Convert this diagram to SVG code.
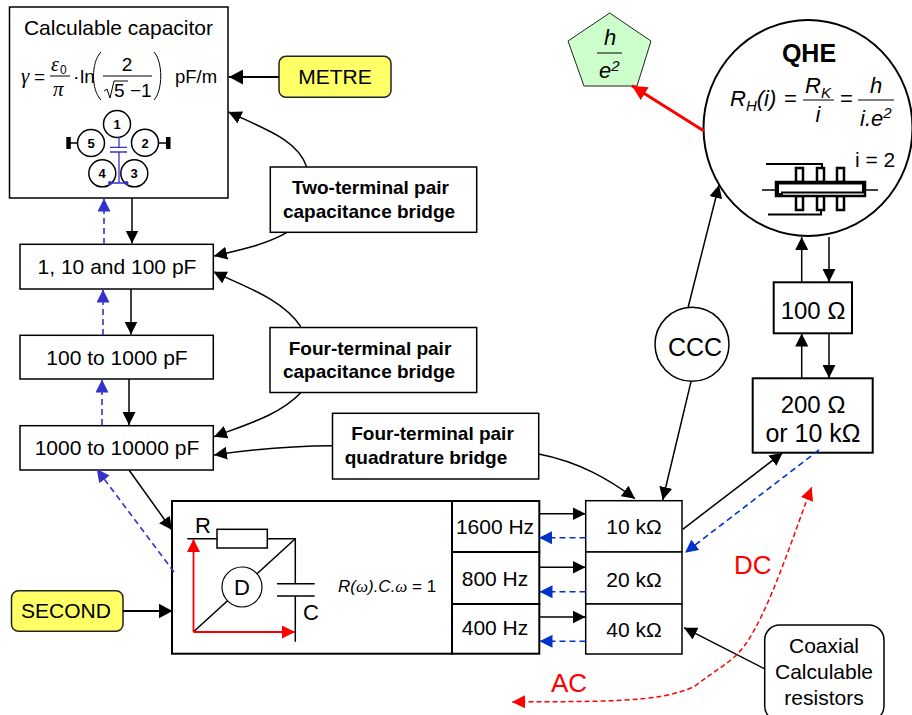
<svg xmlns="http://www.w3.org/2000/svg" width="912" height="715" viewBox="0 0 912 715">
<style>
text{font-family:"Liberation Sans",Arial,sans-serif;fill:#000;font-size:21px}
.m{text-anchor:middle}
.b{font-weight:bold;font-size:19px}
.i{font-style:italic}
.f{font-size:19px}
.g{font-family:"Liberation Serif","Times New Roman",serif;font-style:italic}
.box{fill:#fff;stroke:#000;stroke-width:1.5}
.y{fill:#ffff66;stroke:#222;stroke-width:1.5}
.l{fill:none;stroke:#000;stroke-width:1.5}
.w{fill:none;stroke:#000;stroke-width:1}
.t{fill:none;stroke:#000;stroke-width:2.2}
.bd{fill:none;stroke:#3333cc;stroke-width:1.6;stroke-dasharray:6 4}
.bb{fill:none;stroke:#0033cc;stroke-width:1.6;stroke-dasharray:6 4}
.rd{fill:none;stroke:#f00;stroke-width:1.5;stroke-dasharray:5 3}
.r{fill:none;stroke:#f00;stroke-width:1.8}
.cb{fill:none;stroke:#3333cc;stroke-width:1.3}
.a{marker-end:url(#ak)}
.at{marker-end:url(#akt)}
.ab{marker-end:url(#ab)}
.abb{marker-end:url(#abb)}
.ar{marker-end:url(#ar)}
.nb{font-size:13px;font-weight:bold}
</style>
<defs>
<marker id="ak" markerUnits="userSpaceOnUse" markerWidth="14" markerHeight="13" refX="13" refY="6.5" orient="auto" viewBox="0 0 14 13"><path d="M0 0L13 6.5L0 13z" fill="#000"/></marker>
<marker id="akt" markerUnits="userSpaceOnUse" markerWidth="15" markerHeight="15" refX="14" refY="7.5" orient="auto" viewBox="0 0 15 15"><path d="M0 0L14 7.500L0 15z" fill="#000"/></marker>
<marker id="ab" markerUnits="userSpaceOnUse" markerWidth="14" markerHeight="13" refX="13" refY="6.5" orient="auto" viewBox="0 0 14 13"><path d="M0 0L13 6.5L0 13z" fill="#3333cc"/></marker>
<marker id="abb" markerUnits="userSpaceOnUse" markerWidth="14" markerHeight="13" refX="13" refY="6.5" orient="auto" viewBox="0 0 14 13"><path d="M0 0L13 6.5L0 13z" fill="#0033cc"/></marker>
<marker id="ar" markerUnits="userSpaceOnUse" markerWidth="14" markerHeight="13" refX="13" refY="6.5" orient="auto" viewBox="0 0 14 13"><path d="M0 0L13 6.5L0 13z" fill="#f00"/></marker>
<marker id="ars" markerUnits="userSpaceOnUse" markerWidth="14" markerHeight="13" refX="13" refY="6.5" orient="auto-start-reverse" viewBox="0 0 14 13"><path d="M0 0L13 6.5L0 13z" fill="#f00"/></marker>
<marker id="art" markerUnits="userSpaceOnUse" markerWidth="16" markerHeight="15" refX="15" refY="7.5" orient="auto" viewBox="0 0 16 15"><path d="M0 0L15 7.500L0 15z" fill="#f00"/></marker>
</defs>
<rect width="912" height="715" fill="#fff"/>

<g id="node-capacitor">
<rect class="box" x="9.500" y="7" width="218.500" height="191"/>
<text class="m" x="118.500" y="35">Calculable capacitor</text>
<text class="g" x="21" y="83" style="font-size:21px">γ</text>
<text class="f" x="34" y="83">=</text>
<text class="g" x="51" y="71" style="font-size:20px">ε</text>
<text x="60" y="74" style="font-size:12px">0</text>
<path class="w" d="M50 76H70"/>
<text class="g" x="53" y="96" style="font-size:21px">π</text>
<text class="f" x="73" y="83">·</text>
<text class="f" x="80" y="83">ln</text>
<path class="w" d="M101 52C91 62 91 90 101 100M154 52C163 62 163 90 154 100M103 76H152"/>
<text class="m f" x="127" y="71">2</text>
<path class="w" d="M104 91L107 89L110 98L114 81H128"/>
<text class="f" x="114" y="97">5</text>
<text class="f" x="130" y="97">−1</text>
<text x="175" y="83" style="font-size:18.500px">pF/m</text>
<circle class="l" cx="117" cy="124" r="13.500"/><circle class="l" cx="91" cy="143" r="13.500"/><circle class="l" cx="145" cy="142.700" r="13.500"/><circle class="l" cx="102.300" cy="173.300" r="13.500"/><circle class="l" cx="134.300" cy="173.300" r="13.500"/>
<path class="l" d="M69 143H77.500M158.500 143H168"/>
<path d="M66.300 137h4.500v12h-4.500zM166 137h4.500v12h-4.500z" fill="#000"/>
<text class="m nb" x="117" y="129">1</text>
<text class="m nb" x="91" y="148">5</text>
<text class="m nb" x="145" y="148">2</text>
<text class="m nb" x="102" y="178">4</text>
<text class="m nb" x="134" y="178">3</text>
<path class="cb" d="M119 137V147M110 147.300H127M110 152H127M119 152V183M110 183H126.500"/>
<circle cx="110" cy="183" r="2" fill="#3333cc"/><circle cx="126.500" cy="183" r="2" fill="#3333cc"/>
</g>

<g id="node-metre"><rect class="y" x="279" y="56.300" width="112" height="41" rx="7"/><text class="m" x="335" y="84.300">METRE</text></g>
<g id="node-second"><rect class="y" x="11.500" y="590.700" width="111.500" height="40.600" rx="7"/><text class="m" x="66" y="618">SECOND</text></g>
<g id="node-two-term"><rect class="box" x="270.300" y="167" width="206.400" height="65.300"/><text class="m b" x="370.500" y="194">Two-terminal pair</text><text class="m b" x="369" y="217.700">capacitance bridge</text></g>
<g id="node-four-term"><rect class="box" x="270" y="327.500" width="206.700" height="65"/><text class="m b" x="370" y="355">Four-terminal pair</text><text class="m b" x="369" y="378">capacitance bridge</text></g>
<g id="node-quad"><rect class="box" x="332.500" y="413.300" width="206.200" height="65.700"/><text class="m b" x="432.500" y="440">Four-terminal pair</text><text class="m b" x="426" y="464">quadrature bridge</text></g>
<g id="node-pf1"><rect class="box" x="20" y="244.300" width="193.300" height="44.700"/><text class="m" x="117" y="274">1, 10 and 100 pF</text></g>
<g id="node-pf2"><rect class="box" x="20" y="335.300" width="193.300" height="43.700"/><text class="m" x="117" y="365">100 to 1000 pF</text></g>
<g id="node-pf3"><rect class="box" x="20" y="425.700" width="193.300" height="44.300"/><text class="m" x="117" y="455">1000 to 10000 pF</text></g>

<g id="node-rc">
<rect class="box" style="stroke-width:2" x="172" y="501" width="280" height="152.700"/>
<path class="l" d="M187.300 538.700H217M267.300 538.700H295.300V583M295.300 596V641.700"/>
<rect class="box" x="217" y="529.300" width="50.300" height="18.700"/>
<path class="l" d="M277 583.700H314.700M277 596H314.700M295.300 538.700L193.300 632"/>
<circle class="box" style="stroke-width:1.200" cx="242" cy="587" r="20"/>
<text class="m" x="242" y="595" style="font-size:22px">D</text>
<text class="m" x="203" y="533" style="font-size:22px">R</text>
<text class="m" x="311" y="620" style="font-size:22px">C</text>
<path class="r ar" d="M193.500 632V539"/>
<path class="r ar" d="M193.500 632H295"/>
<text x="338" y="592" style="font-size:17px"><tspan class="i">R(</tspan><tspan class="g">ω</tspan><tspan class="i">).C.</tspan><tspan class="g">ω</tspan> = 1</text>
</g>
<g id="node-1600"><rect class="box" style="stroke-width:2" x="452" y="501" width="87.300" height="51"/><text class="m" x="495" y="534">1600 Hz</text></g>
<g id="node-800"><rect class="box" style="stroke-width:2" x="452" y="552" width="87.300" height="52"/><text class="m" x="495" y="586">800 Hz</text></g>
<g id="node-400"><rect class="box" style="stroke-width:2" x="452" y="604" width="87.300" height="49.700"/><text class="m" x="495" y="635">400 Hz</text></g>
<g id="node-10k"><rect class="box" x="585.700" y="500.700" width="96.300" height="51.300"/><text class="m" x="634" y="534">10 kΩ</text></g>
<g id="node-20k"><rect class="box" x="585.700" y="552" width="96.300" height="52"/><text class="m" x="634" y="587">20 kΩ</text></g>
<g id="node-40k"><rect class="box" x="585.700" y="604" width="96.300" height="50"/><text class="m" x="634" y="637">40 kΩ</text></g>
<g id="node-100"><rect class="box" style="stroke-width:2" x="773.700" y="282.300" width="78.300" height="51"/><text class="m" x="813" y="319" style="font-size:24px">100 Ω</text></g>
<g id="node-200"><rect class="box" style="stroke-width:2" x="752.700" y="378.300" width="120" height="74.400"/><text class="m" x="813" y="413" style="font-size:24px">200 Ω</text><text class="m" x="813" y="442" style="font-size:25px">or 10 kΩ</text></g>
<g id="node-ccc"><circle class="box" cx="692" cy="344.300" r="37"/><text class="m" x="695" y="356" style="font-size:25px">CCC</text></g>
<g id="node-coax"><rect class="box" x="764.700" y="625" width="119.300" height="96" rx="15"/><text class="m" x="824" y="653">Coaxial</text><text class="m" x="824" y="679">Calculable</text><text class="m" x="824" y="705">resistors</text></g>

<g id="node-he2"><path d="M609.700 13L651 41L637 86H584L568 41z" fill="#ccffcc" stroke="#222" stroke-width="1"/>
<text class="m i" x="610" y="45" style="font-size:22px">h</text><path class="w" d="M597 53H622"/><text class="i" x="599" y="78" style="font-size:22px">e<tspan dy="-7" style="font-size:15px">2</tspan></text></g>

<g id="node-qhe">
<ellipse class="box" style="stroke-width:2" cx="808" cy="128" rx="104.500" ry="108"/>
<text class="m" x="809" y="62" style="font-size:25px;font-weight:bold">QHE</text>
<text class="i" x="730" y="106" style="font-size:22px">R<tspan dy="5" style="font-size:15px">H</tspan><tspan dy="-5">(i)</tspan></text>
<text x="784" y="106" style="font-size:22px">=</text>
<path class="w" d="M803 100H834M858 100H894"/>
<text class="i" x="805" y="93" style="font-size:22px">R<tspan dy="5" style="font-size:15px">K</tspan></text>
<text class="i m" x="818" y="122" style="font-size:22px">i</text>
<text x="840" y="106" style="font-size:22px">=</text>
<text class="i m" x="876" y="93" style="font-size:22px">h</text>
<text class="i" x="860" y="126" style="font-size:22px">i.e<tspan dy="-8" style="font-size:15px">2</tspan></text>
<text x="855" y="167" style="font-size:21px">i = 2</text>
<path fill="none" stroke="#000" stroke-width="2" d="M766 164H822V182M768 214.500H821V196"/>
<path class="l" d="M762 190H776M865 190H878"/>
<path fill="#fff" stroke="#000" stroke-width="2.500" d="M796 168h7v14h-7zM817 168h7v14h-7zM837 168h7v14h-7zM796 196h7v14h-7zM817 196h7v14h-7zM837 196h7v14h-7z"/>
<rect x="776" y="182" width="89" height="14" fill="#fff" stroke="#000" stroke-width="2.500"/>
<path fill="none" stroke="#000" stroke-width="2" d="M778 183.500V194H782V192.500H863V183.500Z"/>
</g>

<g id="connectors">
<path class="t at" d="M279 77H229"/>
<path class="l a" d="M306.700 167C298 140 265 129 228.500 112"/>
<path class="l a" d="M286.700 232.700C265 245 240 250 214 256"/>
<path class="l a" d="M300.700 326.700C282 298 240 285 213.500 271.700"/>
<path class="l a" d="M300.700 392.700C280 415 245 425 214 436.700"/>
<path class="l a" d="M332 445.700C290 446 255 449 214 455"/>
<path class="l a" d="M538.700 454C580 462 610 480 635 498.700"/>
<path class="l a" d="M132 198V243.500"/>
<path class="l a" d="M131 289V334.500"/>
<path class="l a" d="M129 379V425"/>
<path class="l a" d="M129 470L172 530"/>
<path class="t at" d="M123 611H172.500"/>
<path class="bd ab" d="M104 244V198.500"/>
<path class="bd ab" d="M103 335V289.500"/>
<path class="bd ab" d="M102 425V379.500"/>
<path class="bd ab" d="M174 572L96.700 469"/>
<path class="l a" d="M539 513.700H585.500"/>
<path class="l a" d="M539 567.300H585.500"/>
<path class="l a" d="M539 617H585.500"/>
<path class="bb abb" d="M585.500 537.700H539"/>
<path class="bb abb" d="M585.500 591.700H539.500"/>
<path class="bb abb" d="M585.500 641.300H539.500"/>
<path class="l a" d="M688 307.700L719 185"/>
<path class="l a" d="M691 381.700L662.700 500"/>
<path class="l a" d="M801.700 282V237"/>
<path class="l a" d="M829 237V282"/>
<path class="l a" d="M801.700 378V333.500"/>
<path class="l a" d="M829 333V378"/>
<path class="l a" d="M682.700 529.300L782.700 452.700"/>
<path class="bb abb" d="M819 450L685 552.700"/>
<path class="l a" d="M765 669L684 627.700"/>
<path d="M704 131L632 85.700" fill="none" stroke="#f00" stroke-width="3" marker-end="url(#art)"/>
<path class="rd" marker-start="url(#ars)" marker-end="url(#ar)" d="M811.700 487.300C795 530 770 610 745 645C733 662 715 670 695 686C660 704 590 701 512 702"/>
</g>
<text x="734" y="574" style="font-size:26px;fill:#f00">DC</text>
<text x="551" y="691.700" style="font-size:26px;fill:#f00">AC</text>
</svg>
